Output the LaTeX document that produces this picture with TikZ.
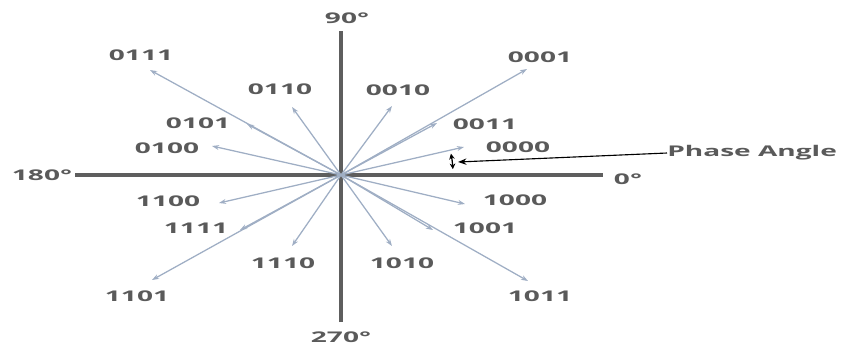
\documentclass[tikz,border=0pt]{standalone}
\usepackage{fontspec}
\newfontfamily\lblfont[FakeStretch=1.9]{Open Sans}
\usetikzlibrary{arrows.meta}
\definecolor{axisgray}{HTML}{5E5E5E}
\definecolor{vecblue}{HTML}{9FAEC4}
\definecolor{textgray}{HTML}{5A5A5A}
\tikzset{
  % The 'axis' style is for the thick grey cross of the diagram
  axis/.style={draw=axisgray, line width=2.8pt},
  % The 'vec' style is for the thin phase vectors with a small head
  vec/.style={draw=vecblue, line width=0.9pt, -{Stealth[length=5pt, width=3.5pt]}},
  % The 'code' style is for the four bit labels
  code/.style={font=\lblfont\bfseries\fontsize{10.5}{12}\selectfont, text=textgray, inner sep=0pt, anchor=center},
  % The 'pointer' style is for the black line pointing at the angle
  pointer/.style={draw=black, line width=0.8pt, -{Stealth[length=6pt, width=4.5pt]}}
}

\begin{document}
\begin{tikzpicture}[x=0.025cm, y=-0.025cm]

  % Fix the frame to the size of the reference
  \useasboundingbox (0,0) rectangle (842,345);

  % Origin and the ends of the axes
  \coordinate (o) at (341,175);
  \coordinate (top) at (341,31);
  \coordinate (bottom) at (341,322);
  \coordinate (left) at (75,175);
  \coordinate (right) at (603,175);

  % Draw the axes
  \draw[axis] (left) -- (right);
  \draw[axis] (bottom) -- (top);

  % Angle labels at the ends of the axes
  \node[code] (deg90) at (347,18) {90°};
  \node[code] (deg270) at (341,337) {270°};
  \node[code] (deg180) at (42,175) {180°};
  \node[code] (deg0) at (628,179) {0°};

  % Heads of the sixteen phase vectors
  \coordinate (t0000) at (464,147);
  \coordinate (t0011) at (437,123);
  \coordinate (t0001) at (527,69);
  \coordinate (t0010) at (392,106);
  \coordinate (t0110) at (292,107);
  \coordinate (t0111) at (150,70);
  \coordinate (t0101) at (247,124);
  \coordinate (t0100) at (212,146);
  \coordinate (t1100) at (219,203);
  \coordinate (t1111) at (240,230);
  \coordinate (t1110) at (292,246);
  \coordinate (t1101) at (152,280);
  \coordinate (t1000) at (465,204);
  \coordinate (t1001) at (433,230);
  \coordinate (t1010) at (392,246);
  \coordinate (t1011) at (528,281);

  % Draw the vectors from the origin
  \foreach \b in {0000,0011,0001,0010,0110,0111,0101,0100,1100,1111,1110,1101,1000,1001,1010,1011}
    \draw[vec] (o) -- (t\b);

  % Bit labels next to the vector heads
  \node[code] (l0000) at (518,147) {0000};
  \node[code] (l0011) at (485,124) {0011};
  \node[code] (l0001) at (540,57) {0001};
  \node[code] (l0010) at (398,90) {0010};
  \node[code] (l0110) at (280,89) {0110};
  \node[code] (l0111) at (141,55) {0111};
  \node[code] (l0101) at (198,123) {0101};
  \node[code] (l0100) at (167,148) {0100};
  \node[code] (l1100) at (168,201) {1100};
  \node[code] (l1111) at (196,228) {1111};
  \node[code] (l1110) at (283,263) {1110};
  \node[code] (l1101) at (137,296) {1101};
  \node[code] (l1000) at (515,200) {1000};
  \node[code] (l1001) at (485,228) {1001};
  \node[code] (l1010) at (402,263) {1010};
  \node[code] (l1011) at (540,296) {1011};

  % Small arc marking the angle of 0000 to the axis (y runs down, so angles are negative)
  \draw[black, line width=0.9pt, {Stealth[length=4pt, width=4pt]}-{Stealth[length=4pt, width=4pt]}]
    (o) ++(-3:112) arc[start angle=-3, end angle=-11, radius=112];

  % Phase angle caption with its pointer
  \node[code, anchor=west] (phase) at (667,153) {Phase Angle};
  \coordinate (ptip) at (458,162);
  \draw[pointer] (phase.west) -- (ptip);

\end{tikzpicture}
\end{document}
